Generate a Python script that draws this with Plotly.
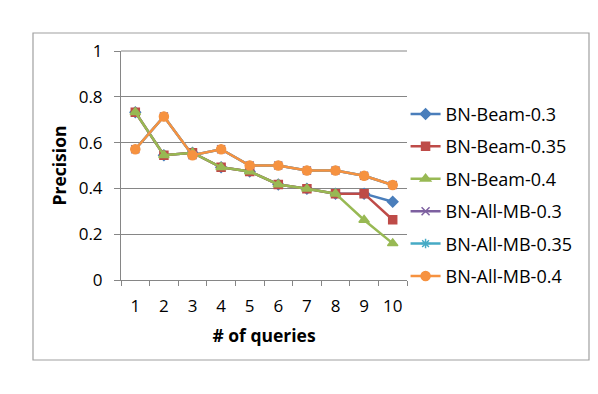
import plotly.graph_objects as go

queries = ["1", "2", "3", "4", "5", "6", "7", "8", "9", "10"]

beam_03 = [0.733, 0.545, 0.556, 0.492, 0.474, 0.417, 0.398, 0.377, 0.377, 0.342]
beam_035 = [0.733, 0.545, 0.556, 0.492, 0.474, 0.417, 0.398, 0.377, 0.377, 0.263]
beam_04 = [0.733, 0.545, 0.556, 0.492, 0.474, 0.417, 0.398, 0.377, 0.262, 0.160]
allmb_03 = [0.571, 0.714, 0.545, 0.571, 0.500, 0.500, 0.478, 0.478, 0.455, 0.415]
allmb_035 = [0.571, 0.714, 0.545, 0.571, 0.500, 0.500, 0.478, 0.478, 0.455, 0.415]
allmb_04 = [0.571, 0.714, 0.545, 0.571, 0.500, 0.500, 0.478, 0.478, 0.455, 0.415]

FONT = "Open Sans"
series = [
    ("BN-Beam-0.3", beam_03, "#4A7EBB", "diamond", 8),
    ("BN-Beam-0.35", beam_035, "#BE4B48", "square", 8),
    ("BN-Beam-0.4", beam_04, "#98B954", "triangle-up", 9),
    ("BN-All-MB-0.3", allmb_03, "#7D60A0", "x-thin", 8),
    ("BN-All-MB-0.35", allmb_035, "#46AAC5", "asterisk", 8),
    ("BN-All-MB-0.4", allmb_04, "#F69240", "circle", 9),
]

fig = go.Figure()
for i, (name, vals, color, sym, size) in enumerate(series):
    fig.add_trace(go.Scatter(
        x=queries, y=vals, name=name, mode="lines+markers",
        legendgroup=f"g{i}",
        line=dict(color=color, width=2.5),
        marker=dict(symbol=sym, size=size, color=color,
                    line=dict(color=color, width=1.5)),
    ))

# page has an 8px body margin, so the figure is 8px smaller than the window
fig.update_layout(
    width=590, height=386,
    margin=dict(l=113, r=191, t=43, b=114),
    paper_bgcolor="white", plot_bgcolor="white",
    font=dict(family=FONT, size=17, color="#000000"),
    showlegend=True,
    legend=dict(
        x=0.995, xanchor="left", y=0.37, yanchor="middle",
        font=dict(family=FONT, size=18),
        tracegroupgap=6, bgcolor="rgba(0,0,0,0)",
    ),
    xaxis=dict(
        type="category", range=[-0.5, 9.5],
        showline=True, linecolor="#868686", linewidth=1,
        showgrid=False, ticks="outside", tickson="boundaries",
        ticklen=5, tickcolor="#868686", ticklabelstandoff=11,
        tickfont=dict(size=17),
        title=dict(text="<b># of queries</b>", font=dict(family=FONT, size=17.5), standoff=13),
    ),
    yaxis=dict(
        range=[0, 1], tickvals=[0, 0.2, 0.4, 0.6, 0.8, 1],
        ticktext=["0", "0.2", "0.4", "0.6", "0.8", "1"],
        showline=True, linecolor="#868686", linewidth=1,
        showgrid=True, gridcolor="#868686", gridwidth=1,
        ticks="outside", ticklen=6, tickcolor="#868686", ticklabelstandoff=8,
        tickfont=dict(size=17),
        zeroline=False,
        title=dict(text="<b>Precision</b>", font=dict(family=FONT, size=17.5), standoff=7),
    ),
    shapes=[
        dict(
            type="rect", xref="paper", yref="paper",
            x0=(33 - 121) / 286, x1=(589 - 121) / 286,
            y0=(280 - 360) / 229, y1=(280 - 33) / 229,
            line=dict(color="#A0A0A0", width=1.2), layer="below",
        ),
        # top gridline on the plot edge (plotly drops the gridline at the range end)
        dict(type="line", xref="paper", yref="paper", x0=0, x1=1, y0=1, y1=1,
             line=dict(color="#868686", width=1), layer="above"),
    ],
)

fig.write_html("out.html")
